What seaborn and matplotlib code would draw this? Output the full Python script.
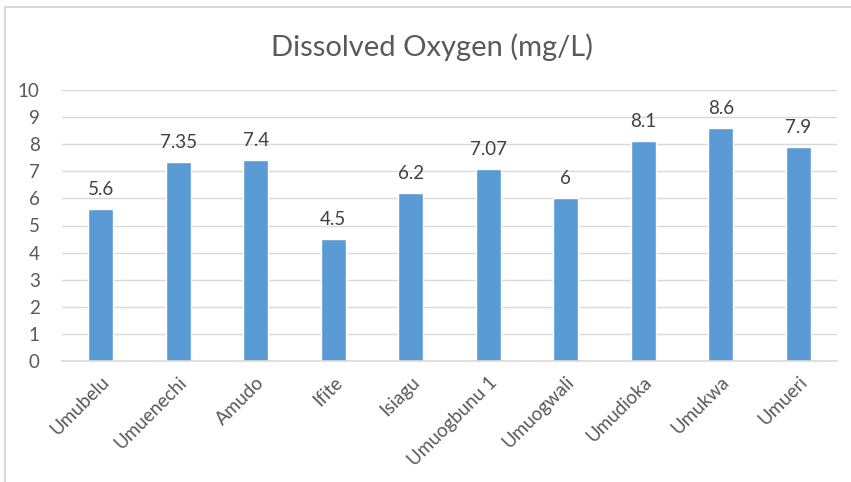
import matplotlib
matplotlib.use("Agg")
import matplotlib.pyplot as plt
import matplotlib.patches as mpatches
import seaborn as sns
import pandas as pd

# Data
sites = ['Umubelu', 'Umuenechi', 'Amudo', 'Ifite', 'Isiagu',
         'Umuogbunu 1', 'Umuogwali', 'Umudioka', 'Umukwa', 'Umueri']
do_values = [5.6, 7.35, 7.4, 4.5, 6.2, 7.07, 6, 8.1, 8.6, 7.9]
value_labels = ['5.6', '7.35', '7.4', '4.5', '6.2', '7.07', '6', '8.1', '8.6', '7.9']
y_ticks = list(range(0, 11))


def main():
    sns.set_style('white')
    plt.rcParams['font.family'] = ['Lato', 'DejaVu Sans']

    df = pd.DataFrame({'Site': sites, 'DO': do_values})

    fig = plt.figure(figsize=(8.51, 4.82), dpi=100)
    ax = fig.add_axes([62 / 851, 1 - 361 / 482, (837 - 62) / 851, (361 - 90) / 482])

    sns.barplot(data=df, x='Site', y='DO', color='#5B9BD5', saturation=1,
                width=0.32, ax=ax)

    ax.set_ylim(0, 10)
    ax.set_yticks(y_ticks)
    ax.yaxis.grid(True, color='#D9D9D9', linewidth=1)
    ax.set_axisbelow(True)
    for side in ['top', 'right', 'left']:
        ax.spines[side].set_visible(False)
    ax.spines['bottom'].set_color('#D9D9D9')
    ax.spines['bottom'].set_linewidth(1.2)
    ax.tick_params(axis='both', length=0, labelsize=13.5, colors='#595959')
    ax.tick_params(axis='y', pad=16)
    ax.set_xlabel('')
    ax.set_ylabel('')
    plt.setp(ax.get_xticklabels(), rotation=45, ha='right', rotation_mode='anchor')
    ax.tick_params(axis='x', pad=9)

    # value labels above bars
    for bar, lab in zip(ax.patches, value_labels):
        ax.annotate(lab, (bar.get_x() + bar.get_width() / 2, bar.get_height()),
                    xytext=(0, 8), textcoords='offset points',
                    ha='center', va='bottom', fontsize=13.5, color='#404040')

    fig.text(432 / 851, 1 - 47 / 482, 'Dissolved Oxygen (mg/L)', ha='center',
             va='center', fontsize=21, color='#595959')

    # chart area border (left and top edges visible)
    fig.add_artist(mpatches.Rectangle((5 / 851, -0.2), 1.2, 1.2 - 7 / 482,
                                      transform=fig.transFigure, fill=False,
                                      edgecolor='#D9D9D9', linewidth=1.5))

    fig.savefig('out.png', dpi=100)


if __name__ == '__main__':
    main()
